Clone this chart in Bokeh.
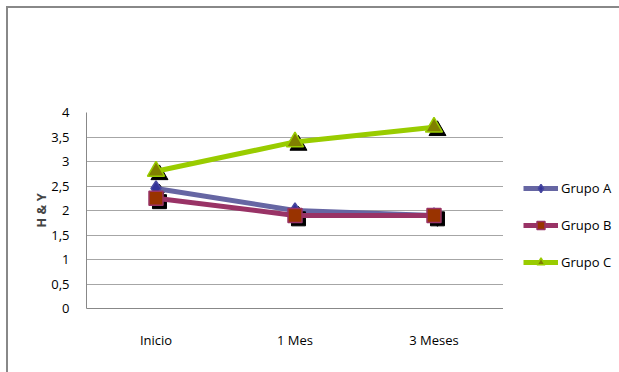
from bokeh.plotting import figure
from bokeh.layouts import row
from bokeh.models import (FactorRange, Range1d, FixedTicker, CustomJSTickFormatter,
                          Legend, LegendItem, ColumnDataSource)
from bokeh.transform import dodge
from bokeh.embed import file_html
from bokeh.resources import INLINE

# Data
periods = ["Inicio", "1 Mes", "3 Meses"]
grupo_a = [2.45, 2.0, 1.9]
grupo_b = [2.25, 1.9, 1.9]
grupo_c = [2.8, 3.4, 3.7]
y_ticks = [0, 0.5, 1, 1.5, 2, 2.5, 3, 3.5, 4]

FONT = "Open Sans"
FSIZE = "13px"

p = figure(width=495, height=364, x_range=FactorRange(*periods, range_padding=0),
           y_range=Range1d(0, 4), output_backend="svg", toolbar_location=None,
           min_border_left=78, min_border_top=104, min_border_right=0,
           min_border_bottom=64)

p.outline_line_color = None
p.background_fill_color = "white"
p.border_fill_color = "white"
p.xgrid.grid_line_color = None
p.ygrid.grid_line_color = "#a6a6a6"
p.ygrid.grid_line_width = 1

p.yaxis.ticker = FixedTicker(ticks=y_ticks)
p.yaxis.formatter = CustomJSTickFormatter(code="return tick.toString().replace('.', ',');")
for ax in (p.xaxis, p.yaxis):
    ax.axis_line_color = "#888888"
    ax.major_tick_line_color = None
    ax.minor_tick_line_color = None
    ax.major_label_text_font = FONT
    ax.major_label_text_font_size = FSIZE
    ax.major_label_text_font_style = "normal"
    ax.major_label_text_color = "black"
p.yaxis.major_label_standoff = 11
p.xaxis.major_label_standoff = 16
p.yaxis.axis_label = "H & Y"
p.yaxis.axis_label_text_font = FONT
p.yaxis.axis_label_text_font_style = "bold"
p.yaxis.axis_label_text_font_size = FSIZE
p.yaxis.axis_label_standoff = -2

series = [
    ("Grupo A", grupo_a, "#6666A3", "diamond", "#333399", "#4848a0", 15),
    ("Grupo B", grupo_b, "#993366", "square", "#993300", "#993366", 14),
    ("Grupo C", grupo_c, "#99CC00", "triangle", "#808000", "#99CC00", 17),
]

# Separate panel on the right that only holds the legend; its y range sits
# below the data so the series themselves stay out of view there
lg = figure(width=116, height=364, output_backend="svg", toolbar_location=None,
            x_range=FactorRange(*periods), y_range=Range1d(-2, -1),
            x_axis_type=None, y_axis_type=None, min_border=0)
lg.outline_line_color = None
lg.grid.grid_line_color = None
lg.border_fill_color = "white"
lg.background_fill_color = "white"

items = []
for name, vals, lcol, marker, mfill, mline, msize in series:
    src = ColumnDataSource(dict(x=periods, y=vals))
    # drop shadow behind the markers
    p.scatter(x=dodge("x", 0.025, range=p.x_range), y=dodge("y", -0.07), source=src,
              marker=marker, size=msize, fill_color="black", line_color="black")
    p.line(x="x", y="y", source=src, line_color=lcol, line_width=5)
    p.scatter(x="x", y="y", source=src, marker=marker, size=msize,
              fill_color=mfill, line_color=mline, line_width=1.5)
    # legend swatches
    lr = lg.line(x="x", y="y", source=src, line_color=lcol, line_width=5)
    mr = lg.scatter(x="x", y="y", source=src, marker=marker, size=msize * 0.75,
                    fill_color=mfill, line_color=mline, line_width=1.5)
    items.append(LegendItem(label=name, renderers=[lr, mr], index=0))

legend = Legend(items=items, location=(20, 36), orientation="vertical",
                glyph_width=35, glyph_height=20, spacing=17, padding=0, margin=0,
                label_standoff=3, label_text_font=FONT, label_text_font_size=FSIZE,
                label_text_color="black",
                border_line_alpha=0, background_fill_alpha=0)
lg.add_layout(legend)

layout = row(p, lg, margin=(6, 0, 0, 6),
             styles={"border-left": "2px solid #888888", "border-top": "2px solid #888888"})

open("out.html", "w").write(file_html(layout, INLINE))
